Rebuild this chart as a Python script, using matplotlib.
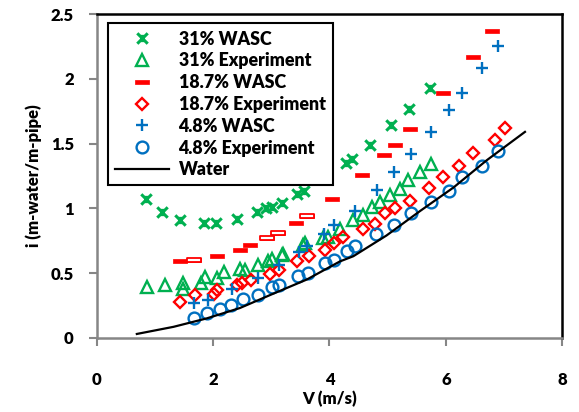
import numpy as np
import matplotlib
matplotlib.use("Agg")
import matplotlib.pyplot as plt
from matplotlib.path import Path

# 31% WASC
wasc31_v = [0.85, 1.13, 1.44, 1.84, 2.05, 2.41, 2.75, 2.91, 3.01, 3.18, 3.44, 3.56,
            4.28, 4.38, 4.70, 5.06, 5.37, 5.72]
wasc31_i = [1.07, 0.97, 0.91, 0.89, 0.89, 0.92, 0.97, 1.00, 1.01, 1.04, 1.11, 1.13,
            1.35, 1.38, 1.49, 1.64, 1.77, 1.93]

# 31% Experiment
exp31_v = [0.86, 1.17, 1.49, 1.49, 1.80, 1.86, 2.06, 2.18, 2.46, 2.55, 2.78, 2.95,
           3.01, 3.18, 3.21, 3.55, 3.58, 3.89, 3.98, 4.18, 4.41, 4.58, 4.73, 4.87,
           5.04, 5.21, 5.35, 5.56, 5.74]
exp31_i = [0.39, 0.41, 0.42, 0.38, 0.42, 0.47, 0.46, 0.51, 0.53, 0.52, 0.56, 0.59,
           0.61, 0.64, 0.65, 0.72, 0.73, 0.77, 0.78, 0.84, 0.91, 0.95, 1.01, 1.05,
           1.10, 1.15, 1.22, 1.28, 1.34]

# 18.7% WASC
wasc187_v = [1.43, 1.68, 2.06, 2.46, 2.63, 2.93, 3.12, 3.42, 3.62, 4.04, 4.56, 4.94,
             5.13, 5.38, 5.95, 6.46, 6.80]
wasc187_i = [0.59, 0.60, 0.63, 0.68, 0.72, 0.77, 0.81, 0.89, 0.94, 1.07, 1.26, 1.41,
             1.49, 1.61, 1.89, 2.17, 2.37]

# 18.7% Experiment
exp187_v = [1.44, 1.69, 2.02, 2.06, 2.41, 2.50, 2.65, 2.97, 3.14, 3.44, 3.64, 3.92,
            4.07, 4.24, 4.58, 4.78, 4.95, 5.13, 5.38, 5.71, 5.95, 6.23, 6.47, 6.84, 7.02]
exp187_i = [0.28, 0.33, 0.34, 0.37, 0.41, 0.42, 0.45, 0.49, 0.52, 0.59, 0.63, 0.68,
            0.73, 0.78, 0.84, 0.88, 0.96, 1.00, 1.06, 1.16, 1.24, 1.33, 1.43, 1.53, 1.62]

# 4.8% WASC
wasc48_v = [1.67, 1.91, 2.33, 2.78, 3.13, 3.47, 3.62, 3.91, 4.08, 4.44, 4.81, 5.11,
            5.40, 5.74, 6.05, 6.28, 6.62, 6.90]
wasc48_i = [0.27, 0.29, 0.38, 0.46, 0.56, 0.66, 0.71, 0.80, 0.87, 0.98, 1.14, 1.28,
            1.42, 1.59, 1.76, 1.89, 2.08, 2.25]

# 4.8% Experiment
exp48_v = [1.67, 1.90, 2.12, 2.31, 2.52, 2.77, 3.01, 3.14, 3.46, 3.63, 3.92, 4.08,
           4.31, 4.44, 4.80, 5.11, 5.40, 5.74, 6.05, 6.28, 6.62, 6.89]
exp48_i = [0.15, 0.19, 0.22, 0.25, 0.30, 0.33, 0.39, 0.41, 0.48, 0.50, 0.58, 0.60,
           0.67, 0.71, 0.80, 0.87, 0.96, 1.05, 1.13, 1.24, 1.33, 1.44]

# Water
water_v = [0.69, 1.32, 1.89, 2.46, 3.03, 3.61, 4.18, 4.41, 4.98, 5.56, 6.13, 6.70, 7.36]
water_i = [0.03, 0.085, 0.15, 0.23, 0.34, 0.45, 0.59, 0.63, 0.79, 0.98, 1.16, 1.37, 1.59]

GREEN = "#00B050"
RED = "#FF0000"
BLUE = "#0070C0"
GRAY = "#868686"

plt.rcParams['font.family'] = ['Lato', 'DejaVu Sans']
plt.rcParams['font.weight'] = 'heavy'
FS = 12

# excel-like markers
star = Path([(-1, -1), (1, 1), (-1, 1), (1, -1), (0, -0.7), (0, 0.7)],
            [Path.MOVETO, Path.LINETO, Path.MOVETO, Path.LINETO, Path.MOVETO, Path.LINETO])
dash = Path([(-1, -0.3), (1, -0.3), (1, 0.3), (-1, 0.3), (-1, -0.3)],
            [Path.MOVETO, Path.LINETO, Path.LINETO, Path.LINETO, Path.CLOSEPOLY])

fig = plt.figure(figsize=(5.79, 4.12), dpi=100)
ax = fig.add_axes([0.167, 0.180, 0.804, 0.786])

ax.plot(wasc31_v, wasc31_i, ls='none', marker=star, ms=7.5, mec=GREEN, mew=2.2,
        label='31% WASC')
ax.plot(exp31_v, exp31_i, ls='none', marker='^', ms=9, mfc='none', mec=GREEN, mew=1.7,
        label='31% Experiment')
ax.plot(wasc187_v, wasc187_i, ls='none', marker=dash, ms=9.5, mfc=RED, mec=RED, mew=0.5,
        label='18.7% WASC')
# a few of the dash markers render hollow in the original
open_idx = [1, 5, 6, 8]
ax.plot([wasc187_v[k] for k in open_idx], [wasc187_i[k] for k in open_idx], ls='none',
        marker=dash, ms=9.5, mfc='white', mec=RED, mew=1.3)
ax.plot(exp187_v, exp187_i, ls='none', marker='D', ms=6.5, mfc='none', mec=RED, mew=1.7,
        label='18.7% Experiment')
ax.plot(wasc48_v, wasc48_i, ls='none', marker='+', ms=8.5, mec=BLUE, mew=1.7,
        label='4.8% WASC')
ax.plot(exp48_v, exp48_i, ls='none', marker='o', ms=8.5, mfc='none', mec=BLUE, mew=1.7,
        label='4.8% Experiment')
ax.plot(water_v, water_i, color='black', lw=1.6, label='Water')

ax.set_xlim(0, 8)
ax.set_ylim(0, 2.5)
ax.set_xticks([0, 2, 4, 6, 8])
ax.set_yticks([0, 0.5, 1, 1.5, 2, 2.5])
ax.set_yticklabels(['0', '0.5', '1', '1.5', '2', '2.5'])

for s in ['left', 'bottom']:
    ax.spines[s].set_color(GRAY)
    ax.spines[s].set_linewidth(1.8)
for s in ['top', 'right']:
    ax.spines[s].set_color('black')
    ax.spines[s].set_linewidth(1.8)

ax.tick_params(axis='both', direction='out', color=GRAY, width=1.5, length=5.5,
               labelsize=FS, labelcolor='black')
ax.tick_params(axis='x', pad=19)
ax.tick_params(axis='y', pad=11)
ax.tick_params(top=False, right=False)

ax.set_xlabel('V (m/s)', fontsize=FS, fontweight='heavy', labelpad=2)
ax.set_ylabel('i (m-water/m-pipe)', fontsize=FS, fontweight='heavy', labelpad=6)

leg = ax.legend(loc='upper left', bbox_to_anchor=(0.025, 0.971), borderaxespad=0,
                fancybox=False, frameon=True, edgecolor='black', framealpha=1,
                handlelength=3.0, handletextpad=0.55, labelspacing=0.27,
                borderpad=0.4, prop={'weight': 'heavy', 'size': 12.8})
leg.get_frame().set_linewidth(1.5)

fig.savefig('out.png', dpi=100)
